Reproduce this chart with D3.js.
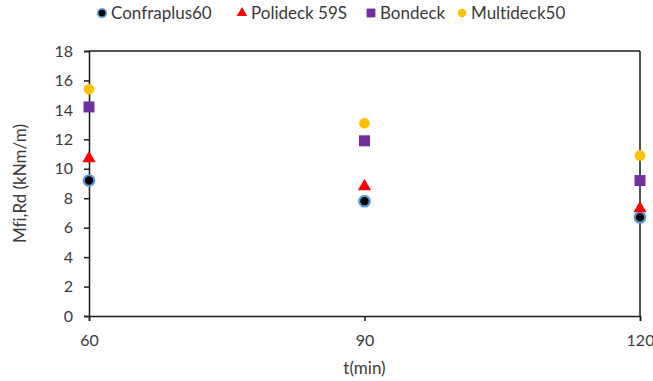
<!DOCTYPE html>
<html><head><meta charset="utf-8">
<script src="https://cdn.jsdelivr.net/npm/d3@7"></script>
<style>body{margin:0;background:#fff}svg{display:block}text{font-variant-ligatures:none;font-feature-settings:"liga" 0}</style>
</head><body>
<script>
const times = [60, 90, 120];
const confraplus60 = [9.2, 7.8, 6.7];
const polideck59S = [10.7, 8.8, 7.3];
const bondeck = [14.2, 11.9, 9.2];
const multideck50 = [15.4, 13.1, 10.9];
const yTicks = [0, 2, 4, 6, 8, 10, 12, 14, 16, 18];
const seriesNames = ["Confraplus60", "Polideck 59S", "Bondeck", "Multideck50"];

const W = 653, H = 381;
const m = {l: 89, r: 13, t: 51, b: 65};
const font = "Lato, 'Open Sans', sans-serif";
const txt = "#3a3a3a";
const svg = d3.select("body").append("svg").attr("width", W).attr("height", H)
  .style("font-family", font);

const x = d3.scaleLinear().domain([60, 120]).range([m.l, W - m.r]);
const y = d3.scaleLinear().domain([0, 18]).range([H - m.b, m.t]);

const series = [
  {name: seriesNames[0], vals: confraplus60, type: "circle", fill: "#000", stroke: "#5b9bd5"},
  {name: seriesNames[1], vals: polideck59S, type: "triangle", fill: "#ff0000"},
  {name: seriesNames[2], vals: bondeck, type: "square", fill: "#7030a0"},
  {name: seriesNames[3], vals: multideck50, type: "circle", fill: "#ffc000"}
];

// frame
const stroke = "#1a1a1a";
svg.append("line").attr("x1", x(60)).attr("x2", x(120)).attr("y1", y(18)).attr("y2", y(18)).attr("stroke", stroke).attr("stroke-width", 1.5);
svg.append("line").attr("x1", x(120)).attr("x2", x(120)).attr("y1", y(18)).attr("y2", y(0)).attr("stroke", stroke).attr("stroke-width", 1.5);

const ya = svg.append("g").attr("transform", `translate(${x(60)},0)`)
  .call(d3.axisLeft(y).tickValues(yTicks).tickSize(5).tickPadding(11).tickFormat(d3.format("d")));
const xa = svg.append("g").attr("transform", `translate(0,${y(0)})`)
  .call(d3.axisBottom(x).tickValues(times).tickSize(5).tickPadding(14).tickFormat(d3.format("d")));
[ya, xa].forEach(g => {
  g.select(".domain").attr("stroke", stroke).attr("stroke-width", 1.5);
  g.selectAll(".tick line").attr("stroke", stroke).attr("stroke-width", 1.5);
  g.selectAll("text").attr("fill", txt).style("font-size", "16px").style("font-family", font);
});

svg.append("text").attr("x", x(90)).attr("y", 374).attr("text-anchor", "middle")
  .attr("fill", txt).style("font-size", "17px").text("t(min)");
svg.append("text").attr("transform", `translate(26,${y(9)}) rotate(-90)`).attr("text-anchor", "middle")
  .attr("fill", txt).style("font-size", "17px").text("Mfi,Rd (kNm/m)");

function drawMarker(g, s, cx, cy, scale) {
  if (s.type === "circle") {
    g.append("circle").attr("cx", cx).attr("cy", cy).attr("r", 5.3 * scale)
      .attr("fill", s.fill).attr("stroke", s.stroke || "none").attr("stroke-width", s.stroke ? 2.2 * scale : 0);
  } else if (s.type === "square") {
    const a = 11 * scale;
    g.append("rect").attr("x", cx - a / 2).attr("y", cy - a / 2).attr("width", a).attr("height", a).attr("fill", s.fill);
  } else {
    g.append("path").attr("transform", `translate(${cx},${cy})`)
      .attr("d", d3.symbol(d3.symbolTriangle, 75 * scale * scale)()).attr("fill", s.fill);
  }
}

const pts = svg.append("g");
series.forEach(s => {
  s.vals.forEach((v, i) => drawMarker(pts, s, x(times[i]), y(v), 1));
});

// legend
const legX = [102, 242, 371, 462];
const leg = svg.append("g");
series.forEach((s, i) => {
  drawMarker(leg, s, legX[i], 13, 0.8);
  leg.append("text").attr("x", legX[i] + 9).attr("y", 19).attr("fill", txt)
    .style("font-size", "17px").text(s.name);
});
</script>
</body></html>
